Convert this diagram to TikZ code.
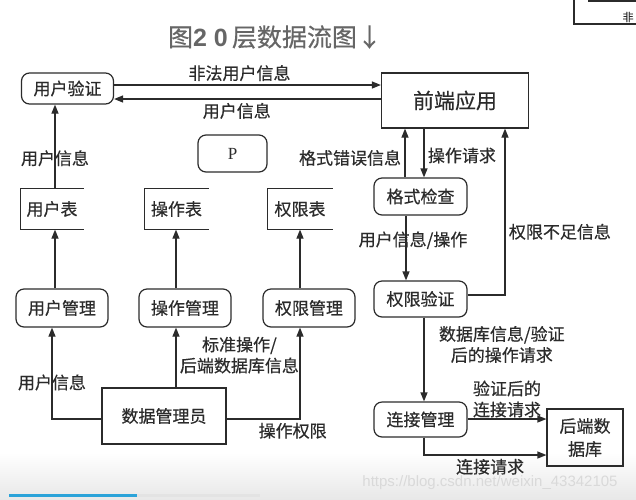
\documentclass[tikz,border=0pt]{standalone}
\usepackage{fontspec}
\setmainfont{Noto Sans CJK SC}[FakeBold=0.5]
\newfontfamily\pfont{Liberation Serif}
\newfontfamily\latinsans{Liberation Sans}
\usetikzlibrary{arrows.meta}
\definecolor{ink}{HTML}{2B2B2B}
\definecolor{barblue}{HTML}{2BA3D9}
\tikzset{
  proc/.style={draw, rounded corners=8pt, minimum width=92pt, minimum height=38pt, inner sep=2pt},
  ent/.style={draw, inner sep=2pt},
  store/.style={minimum height=40pt, inner sep=2pt},
  flow/.style={-{Triangle[length=9pt,width=7pt]}}
}
\begin{document}
\begin{tikzpicture}[x=1pt,y=-1pt,line width=1.2pt,color=ink,font=\fontsize{17}{21}\selectfont]
\useasboundingbox (0,0) rectangle (636,499);
\shade[top color=white, bottom color=gray!18] (0,452) rectangle (636,499);
\draw[line width=3pt, barblue] (9,495) -- (137,495);
\draw[line width=3pt, gray!22] (137,495) -- (260,495);
\node (wm) at (490,483) [text=gray!30, font=\latinsans\fontsize{15}{15}\selectfont] {https://blog.csdn.net/weixin\_43342105};

\node (title) at (275,37) [text=gray!80!black, font=\fontsize{25}{25}\selectfont] {图{\latinsans\bfseries 2 0\,}层数据流图↓};
\draw (574,0) -- (574,24) -- (636,24);
\draw (588,1) -- (636,1);
\node (frag) at (628,17) [font=\fontsize{11}{11}\selectfont] {非};

\node[proc, minimum height=31pt] (auth) at (67.5,88.5) {用户验证};
\node[ent, minimum width=147pt, minimum height=55pt, font=\fontsize{21}{24}\selectfont] (front) at (455,100.5) {前端应用};
\node[proc, minimum width=69pt, minimum height=37pt, font=\pfont\fontsize{17}{20}\selectfont] (pbox) at (232.5,153.5) {P};
\node[store, minimum width=62pt] (utab) at (52,209) {用户表};
\node[store, minimum width=63pt] (otab) at (176.5,209) {操作表};
\node[store, minimum width=64pt] (ptab) at (300,209) {权限表};
\foreach \t in {utab,otab,ptab}
  \draw (\t.north east) -- (\t.north west) -- (\t.south west) -- (\t.south east);
\node[proc] (umgr) at (62,308) {用户管理};
\node[proc] (omgr) at (185,308) {操作管理};
\node[proc] (pmgr) at (309,308) {权限管理};
\node[ent, minimum width=124pt, minimum height=56pt] (admin) at (164,416) {数据管理员};
\node[proc, minimum width=93pt, minimum height=37pt] (fmt) at (420.5,196.5) {格式检查};
\node[proc, minimum width=93pt, minimum height=36pt] (perm) at (420.5,299) {权限验证};
\node[proc, minimum width=93pt, minimum height=35pt] (conn) at (420.5,419.5) {连接管理};
\node[ent, minimum width=76pt, minimum height=57pt, align=center, font=\fontsize{17}{23}\selectfont] (backdb) at (585,437.5) {后端数\\据库};

\draw[flow] (auth.east |- 0,85) -- node[above, pos=0.47] {非法用户信息} (front.west |- 0,85);
\draw[flow] (front.west |- 0,99) -- node[below, pos=0.54] {用户信息} (auth.east |- 0,99);
\draw[flow] (utab.north -| 55,0) -- node[pos=0.36] {用户信息} (auth.south -| 55,0);
\draw[flow] (umgr.north -| 55,0) -- (utab.south -| 55,0);
\draw[flow] (omgr.north -| 176,0) -- (otab.south -| 176,0);
\draw[flow] (pmgr.north -| 300,0) -- (ptab.south -| 300,0);
\draw[flow] (admin.west |- 0,419) -| node[pos=0.7] {用户信息} (umgr.south -| 52,0);
\draw[flow] (admin.north -| 176,0) -- node[right, align=center, pos=0.54] {标准操作/\\后端数据库信息} (omgr.south -| 176,0);
\draw[flow] (admin.east |- 0,419) -| node[below, pos=0.45] {操作权限} (pmgr.south -| 300,0);

\draw[flow] (fmt.north -| 405,0) -- node[left, pos=0.4] {格式错误信息} (front.south -| 405,0);
\draw[flow] (front.south -| 424,0) -- node[right, pos=0.55] {操作请求} (fmt.north -| 424,0);
\draw[flow] (fmt.south -| 406,0) -- node[pos=0.38, xshift=7pt] {用户信息/操作} (perm.north -| 406,0);
\draw[flow] (perm.east |- 0,295) -| node[right, pos=0.69] {权限不足信息} (front.south -| 505,0);
\draw[flow] (perm.south -| 424,0) -- node[right=11pt, align=center, pos=0.32] {数据库信息/验证\\后的操作请求} (conn.north -| 424,0);
\draw[flow] (conn.east |- 0,419) -- node[above, align=center, inner sep=1pt] {验证后的\\连接请求} (backdb.west |- 0,419);
\draw[flow] (conn.south -| 424,0) |- node[below, pos=0.77] {连接请求} (backdb.west |- 0,455);
\end{tikzpicture}
\end{document}
